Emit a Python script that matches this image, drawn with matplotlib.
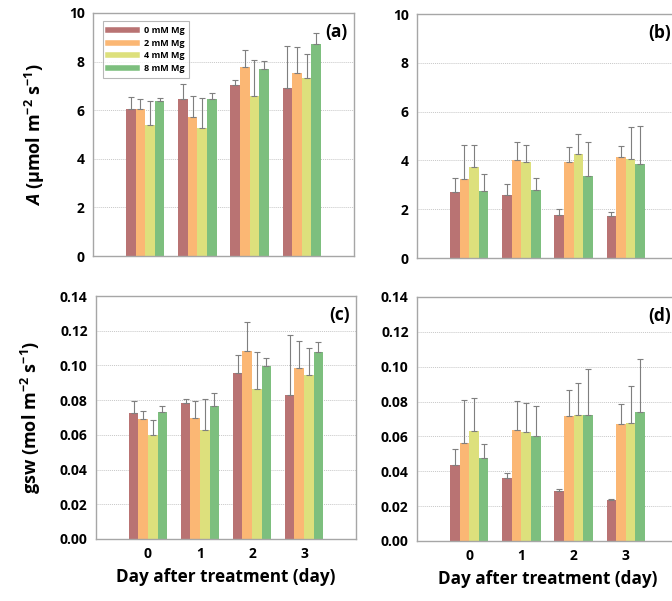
import numpy as np
import matplotlib
matplotlib.use("Agg")
import matplotlib.pyplot as plt
from matplotlib.lines import Line2D

plt.rcParams['font.family'] = ['Open Sans', 'DejaVu Sans']
plt.rcParams['mathtext.fontset'] = 'custom'
plt.rcParams['mathtext.rm'] = 'Open Sans:bold'
plt.rcParams['mathtext.it'] = 'Open Sans:italic:bold'
plt.rcParams['mathtext.bf'] = 'Open Sans:bold'

days = [0, 1, 2, 3]
treatments = ["0 mM Mg", "2 mM Mg", "4 mM Mg", "8 mM Mg"]
colors = ["#b97373", "#fbb774", "#dde07c", "#7dbf7e"]

# Net photosynthesis A, panel (a)
a_mean = [[6.04, 6.46, 7.03, 6.91],
          [6.04, 5.73, 7.76, 7.55],
          [5.40, 5.27, 6.57, 7.32],
          [6.39, 6.46, 7.68, 8.72]]
a_sd = [[0.50, 0.60, 0.22, 1.73],
        [0.43, 0.84, 0.70, 1.04],
        [0.96, 1.23, 1.48, 0.98],
        [0.13, 0.26, 0.34, 0.47]]

# Net photosynthesis A, panel (b)
b_mean = [[2.71, 2.59, 1.75, 1.71],
          [3.23, 4.01, 3.93, 4.14],
          [3.71, 3.95, 4.25, 4.06],
          [2.76, 2.78, 3.38, 3.87]]
b_sd = [[0.57, 0.45, 0.27, 0.16],
        [1.42, 0.74, 0.60, 0.47],
        [0.94, 0.67, 0.85, 1.29],
        [0.67, 0.50, 1.38, 1.56]]

# Stomatal conductance gsw, panel (c)
c_mean = [[0.0726, 0.0783, 0.0958, 0.0827],
          [0.0693, 0.0697, 0.1082, 0.0984],
          [0.0598, 0.0628, 0.0864, 0.0944],
          [0.0734, 0.0768, 0.0998, 0.1076]]
c_sd = [[0.0071, 0.0025, 0.0103, 0.0346],
        [0.0044, 0.0096, 0.0167, 0.0158],
        [0.0090, 0.0176, 0.0212, 0.0155],
        [0.0030, 0.0075, 0.0046, 0.0060]]

# Stomatal conductance gsw, panel (d)
d_mean = [[0.0434, 0.0363, 0.0289, 0.0233],
          [0.0562, 0.0637, 0.0717, 0.0673],
          [0.0629, 0.0623, 0.0725, 0.0679],
          [0.0474, 0.0600, 0.0723, 0.0742]]
d_sd = [[0.0092, 0.0025, 0.0007, 0.0008],
        [0.0245, 0.0166, 0.0151, 0.0111],
        [0.0191, 0.0171, 0.0181, 0.0212],
        [0.0084, 0.0173, 0.0264, 0.0300]]

fig = plt.figure(figsize=(6.72, 6.01), dpi=100)
W = 261 / 672
H = 243 / 601
ax_a = fig.add_axes([93 / 672, 1 - 256 / 601, W, H])
ax_b = fig.add_axes([417 / 672, 1 - 258 / 601, W, 244 / 601])
ax_c = fig.add_axes([96 / 672, 1 - 539 / 601, 260 / 672, H])
ax_d = fig.add_axes([417 / 672, 1 - 541 / 601, W, 244 / 601])

bar_w = 0.184
x = np.array(days, dtype=float)


def draw(ax, means, sds, ylim, yticks, fmt, tag, bottom):
    for i in range(4):
        xs = x + (i - 1.5) * bar_w
        ax.bar(xs, means[i], width=bar_w, color=colors[i], zorder=2)
        ax.errorbar(xs, means[i], yerr=[np.zeros(4), sds[i]], fmt='none',
                    ecolor='#7f7f7f', elinewidth=0.8, capsize=2.2,
                    capthick=0.8, zorder=3)
    ax.set_xlim(-1, 4)
    ax.set_ylim(*ylim)
    ax.set_yticks(yticks)
    ax.set_yticklabels([fmt.format(v) for v in yticks],
                       fontsize=10, fontweight='bold')
    ax.yaxis.grid(True, linestyle=(0, (1, 1)), color='#c8c8c8', linewidth=0.7)
    ax.set_axisbelow(True)
    ax.tick_params(length=0, pad=6)
    for s in ax.spines.values():
        s.set_color('#a6a6a6')
        s.set_linewidth(1.0)
    if bottom:
        ax.set_xticks(days)
        ax.set_xticklabels([str(d) for d in days], fontsize=10, fontweight='bold')
        ax.set_xlabel("Day after treatment (day)", fontsize=12.3,
                      fontweight='bold', labelpad=5)
    else:
        ax.set_xticks([])
    ax.text(0.975, 0.96, tag, transform=ax.transAxes, ha='right', va='top',
            fontsize=12.5, fontweight='bold')


draw(ax_a, a_mean, a_sd, (0, 10), [0, 2, 4, 6, 8, 10], "{:.0f}", "(a)", False)
draw(ax_b, b_mean, b_sd, (0, 10), [0, 2, 4, 6, 8, 10], "{:.0f}", "(b)", False)
draw(ax_c, c_mean, c_sd, (0, 0.14), [0, 0.02, 0.04, 0.06, 0.08, 0.10, 0.12, 0.14],
     "{:.2f}", "(c)", True)
draw(ax_d, d_mean, d_sd, (0, 0.14), [0, 0.02, 0.04, 0.06, 0.08, 0.10, 0.12, 0.14],
     "{:.2f}", "(d)", True)

ax_a.set_ylabel(r"$\it{A}$ (μmol m$^{-2}$ s$^{-1}$)", fontsize=13,
                fontweight='bold', labelpad=16)
ax_c.set_ylabel(r"gsw (mol m$^{-2}$ s$^{-1}$)", fontsize=13,
                fontweight='bold', labelpad=12)

handles = [Line2D([0], [0], color=c, linewidth=4) for c in colors]
leg = ax_a.legend(handles, treatments, loc='upper left',
                  bbox_to_anchor=(0.02, 0.985), prop={'size': 6.5, 'weight': 'bold'},
                  handlelength=3.2, handletextpad=0.8, labelspacing=0.4,
                  frameon=True, fancybox=False, borderpad=0.55)
leg.get_frame().set_edgecolor('#a6a6a6')
leg.get_frame().set_linewidth(0.8)

fig.savefig("out.png", dpi=100)
